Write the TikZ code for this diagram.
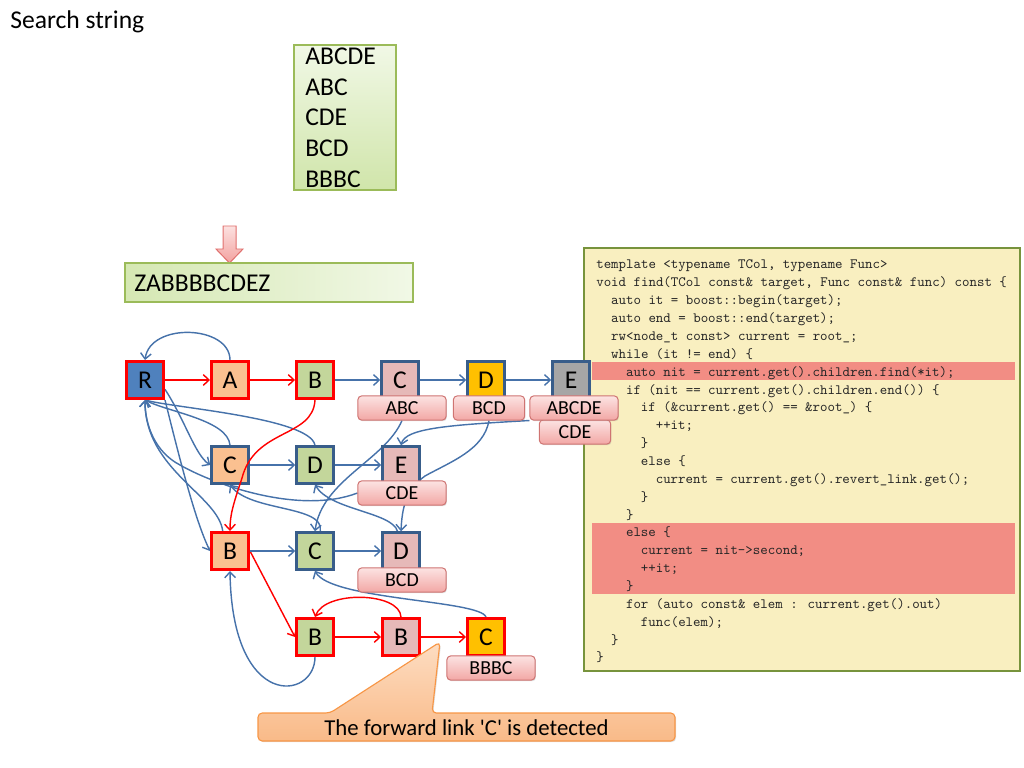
\documentclass[tikz,border=0pt]{standalone}
\usepackage{fontspec}
\setmainfont{Carlito}
\usetikzlibrary{arrows.meta,shadows}

\definecolor{nodeBlue}{HTML}{4F81BD}
\definecolor{nodeOrange}{HTML}{FAC090}
\definecolor{nodeGreen}{HTML}{C3D69B}
\definecolor{nodePink}{HTML}{E6B9B8}
\definecolor{nodeGold}{HTML}{FFC000}
\definecolor{nodeGray}{HTML}{A6A6A6}
\definecolor{hotRed}{HTML}{FF0000}
\definecolor{frameBlue}{HTML}{385D8A}
\definecolor{linkBlue}{HTML}{4672AA}
\definecolor{tagTop}{HTML}{FCE3E2}
\definecolor{tagBottom}{HTML}{F2A7A5}
\definecolor{tagLine}{HTML}{CF7472}
\definecolor{leafTop}{HTML}{F1F8E6}
\definecolor{leafBottom}{HTML}{D0E5AA}
\definecolor{leafLine}{HTML}{9BBB59}
\definecolor{codeFill}{HTML}{F9EFC0}
\definecolor{codeLine}{HTML}{77933C}
\definecolor{codeMark}{HTML}{F28D84}
\definecolor{noteTop}{HTML}{FDDDC2}
\definecolor{noteBottom}{HTML}{F9BA88}
\definecolor{noteLine}{HTML}{F79646}
\definecolor{arrowTop}{HTML}{FCE1E0}
\definecolor{arrowBottom}{HTML}{F3A2A0}
\definecolor{arrowLine}{HTML}{E0706E}

\pgfdeclarelayer{edges}
\pgfsetlayers{edges,main}

% one line of the listing: indent (characters), line number, text
\newcommand\codeline[3]{%
  \node[codetxt] (code#2) at ({596+7.44*#1},{269+17.86*#2}) {#3};}

\begin{document}
\begin{tikzpicture}[x=0.703125pt,y=-0.703125pt,
  state/.style={minimum width=26pt,minimum height=26pt,inner sep=0pt,
    font=\fontsize{18}{18}\selectfont},
  hotstate/.style={state,draw=hotRed,line width=2.1pt},
  coldstate/.style={state,draw=frameBlue,line width=1.75pt},
  tag/.style={rounded corners=2.5pt,draw=tagLine,line width=0.7pt,
    top color=tagTop,bottom color=tagBottom,minimum height=16.9pt,
    minimum width=61.9pt,inner sep=0pt,font=\fontsize{14}{14}\selectfont,
    drop shadow={shadow xshift=0.6pt,shadow yshift=-0.8pt,opacity=0.25}},
  tagnarrow/.style={tag,minimum width=50pt},
  leafbox/.style={draw=leafLine,line width=0.8pt,top color=leafTop,bottom color=leafBottom,
    drop shadow={shadow xshift=0.8pt,shadow yshift=-0.8pt,opacity=0.25}},
  bigtxt/.style={font=\fontsize{18}{18}\selectfont,inner sep=0pt,anchor=base west},
  codetxt/.style={font=\fontsize{10}{10}\ttfamily,text=black!85,inner sep=0pt,anchor=base west},
  link/.style={draw=linkBlue,line width=1pt,-{Straight Barb[length=4pt,width=7.5pt]}},
  hot/.style={draw=hotRed,line width=1pt,-{Straight Barb[length=4pt,width=7.5pt]}}]

\useasboundingbox (0,0) rectangle (1024,768);

% title
\node[bigtxt] (title) at (10,29) {Search string};

% pattern list
\path[leafbox] (294,45) rectangle (396,190);
\node[bigtxt] (p1) at (305,65) {ABCDE};
\node[bigtxt] (p2) at (305,96) {ABC};
\node[bigtxt] (p3) at (305,126) {CDE};
\node[bigtxt] (p4) at (305,157) {BCD};
\node[bigtxt] (p5) at (305,188) {BBBC};

% block arrow and target string
\path[draw=arrowLine,line width=0.7pt,top color=arrowTop,bottom color=arrowBottom]
  (223,226) -- (236,226) -- (236,249) -- (243,249) -- (229.5,263) -- (216,249) -- (223,249) -- cycle;
\path[leafbox,left color=leafBottom!85!leafTop,right color=leafTop] (125,263) rectangle (413,302);
\node[bigtxt] (target) at (134,291) {ZABBBBCDEZ};

% source listing
\path[fill=codeFill,draw=codeLine,line width=1.75pt] (584,248) rectangle (1020,671);
\fill[codeMark] (592,362) rectangle (1015,380);
\fill[codeMark] (592,523) rectangle (1015,594);
\codeline{0}{0}{template <typename TCol, typename Func>}
\codeline{0}{1}{void find(TCol const\& target, Func const\& func) const \{}
\codeline{2}{2}{auto it = boost::begin(target);}
\codeline{2}{3}{auto end = boost::end(target);}
\codeline{2}{4}{rw<node\_t const> current = root\_;}
\codeline{2}{5}{while (it != end) \{}
\codeline{4}{6}{auto nit = current.get().children.find(*it);}
\codeline{4}{7}{if (nit == current.get().children.end()) \{}
\codeline{6}{8}{if (\&current.get() == \&root\_) \{}
\codeline{8}{9}{++it;}
\codeline{6}{10}{\}}
\codeline{6}{11}{else \{}
\codeline{8}{12}{current = current.get().revert\_link.get();}
\codeline{6}{13}{\}}
\codeline{4}{14}{\}}
\codeline{4}{15}{else \{}
\codeline{6}{16}{current = nit->second;}
\codeline{6}{17}{++it;}
\codeline{4}{18}{\}}
\codeline{4}{19}{for (auto const\& elem : current.get().out)}
\codeline{6}{20}{func(elem);}
\codeline{2}{21}{\}}
\codeline{0}{22}{\}}

% automaton states
\node[hotstate,fill=nodeBlue]   (R)  at (145,380) {R};
\node[hotstate,fill=nodeOrange] (A)  at (230,380) {A};
\node[hotstate,fill=nodeGreen]  (B1) at (315,380) {B};
\node[coldstate,fill=nodePink]  (C1) at (400,380) {C};
\node[coldstate,fill=nodeGold]  (D1) at (486,380) {D};
\node[coldstate,fill=nodeGray]  (E1) at (571,380) {E};
\node[coldstate,fill=nodeOrange] (C2) at (230,465) {C};
\node[coldstate,fill=nodeGreen]  (D2) at (315,465) {D};
\node[coldstate,fill=nodePink]   (E2) at (401,465) {E};
\node[hotstate,fill=nodeOrange]  (B3) at (230,551) {B};
\node[coldstate,fill=nodeGreen]  (C3) at (315,551) {C};
\node[coldstate,fill=nodePink]   (D3) at (401,551) {D};
\node[hotstate,fill=nodeGreen]   (B4) at (315,637) {B};
\node[hotstate,fill=nodePink]    (B5) at (401,637) {B};
\node[hotstate,fill=nodeGold]    (C5) at (486,637) {C};

% output tags
\node[tag]       (c1l)  at (402,408) {ABC};
\node[tagnarrow] (d1l)  at (489,408) {BCD};
\node[tagnarrow] (e1l2) at (575,432) {CDE};
\node[tag]       (e1l)  at (574,408) {ABCDE};
\node[tag]       (e2l)  at (402,493) {CDE};
\node[tag]       (d3l)  at (402,580) {BCD};
\node[tag]       (c5l)  at (491,668) {BBBC};

% transitions and failure links
\begin{pgfonlayer}{edges}
  \draw[hot] (R) -- (A);
  \draw[hot] (A) -- (B1);
  \draw[hot] (B3.east) -- (B4.west);
  \draw[hot] (B4) -- (B5);
  \draw[hot] (B5) -- (C5);
  \draw[hot] (B5.north) .. controls (400,592) and (325,590) .. (B4.north);

  \draw[link] (B1) -- (C1);
  \draw[link] (C1) -- (D1);
  \draw[link] (D1) -- (E1);
  \draw[link] (C2) -- (D2);
  \draw[link] (D2) -- (E2);
  \draw[link] (B3) -- (C3);
  \draw[link] (C3) -- (D3);
  \draw[link] (R.-25) .. controls (185,420) and (195,455) .. (C2.west);
  \draw[link] (R.-45) .. controls (180,460) and (195,520) .. (B3.west);

  \draw[link] (A.north) .. controls (230,325) and (150,322) .. (R.north);
  \draw[link] (C2.north) .. controls (228,420) and (168,412) .. (R.south);
  \draw[link] (D2.north) .. controls (310,418) and (175,408) .. (R.south);
  \draw[link] (e2l.west) .. controls (300,515) and (215,485) .. (180,465)
              .. controls (155,452) and (145,425) .. (R.south);
  \draw[link] (B3.110) .. controls (218,495) and (145,470) .. (R.south);
  \draw[link] (C3.75) .. controls (325,505) and (250,512) .. (C2.south);
  \draw[link] (D3.100) .. controls (392,512) and (330,510) .. (D2.south);
  \draw[link] (c1l.south) .. controls (385,460) and (322,480) .. (C3.north);
  \draw[link] (d1l.south) .. controls (484,450) and (450,462) .. (425,476)
              .. controls (405,490) and (402,510) .. (D3.north);
  \draw[link] (e1l.south west) .. controls (450,425) and (405,428) .. (E2.north);
  \draw[link] (B4.south) .. controls (315,700) and (232,712) .. (B3.south);
  \draw[link] (C5.north) .. controls (480,600) and (330,600) .. (C3.south);
\end{pgfonlayer}

% highlighted failure link drawn over the states
\draw[hot] (B1.south) .. controls (313,438) and (255,428) .. (242,478)
           .. controls (233,505) and (230,515) .. (B3.north);

% callout
\path[draw=noteLine,line width=0.8pt,top color=noteTop,bottom color=noteBottom,rounded corners=3pt,
  drop shadow={shadow xshift=0.8pt,shadow yshift=-0.8pt,opacity=0.25}]
  (258,713) -- (330,713) -- (440,642) -- (432,713) -- (675,713) -- (675,741) -- (258,741) -- cycle;
\node[font=\fontsize{16}{16}\selectfont,inner sep=0pt] (note) at (466.5,728)
  {The forward link \textquotesingle C\textquotesingle{} is detected};

\end{tikzpicture}
\end{document}
